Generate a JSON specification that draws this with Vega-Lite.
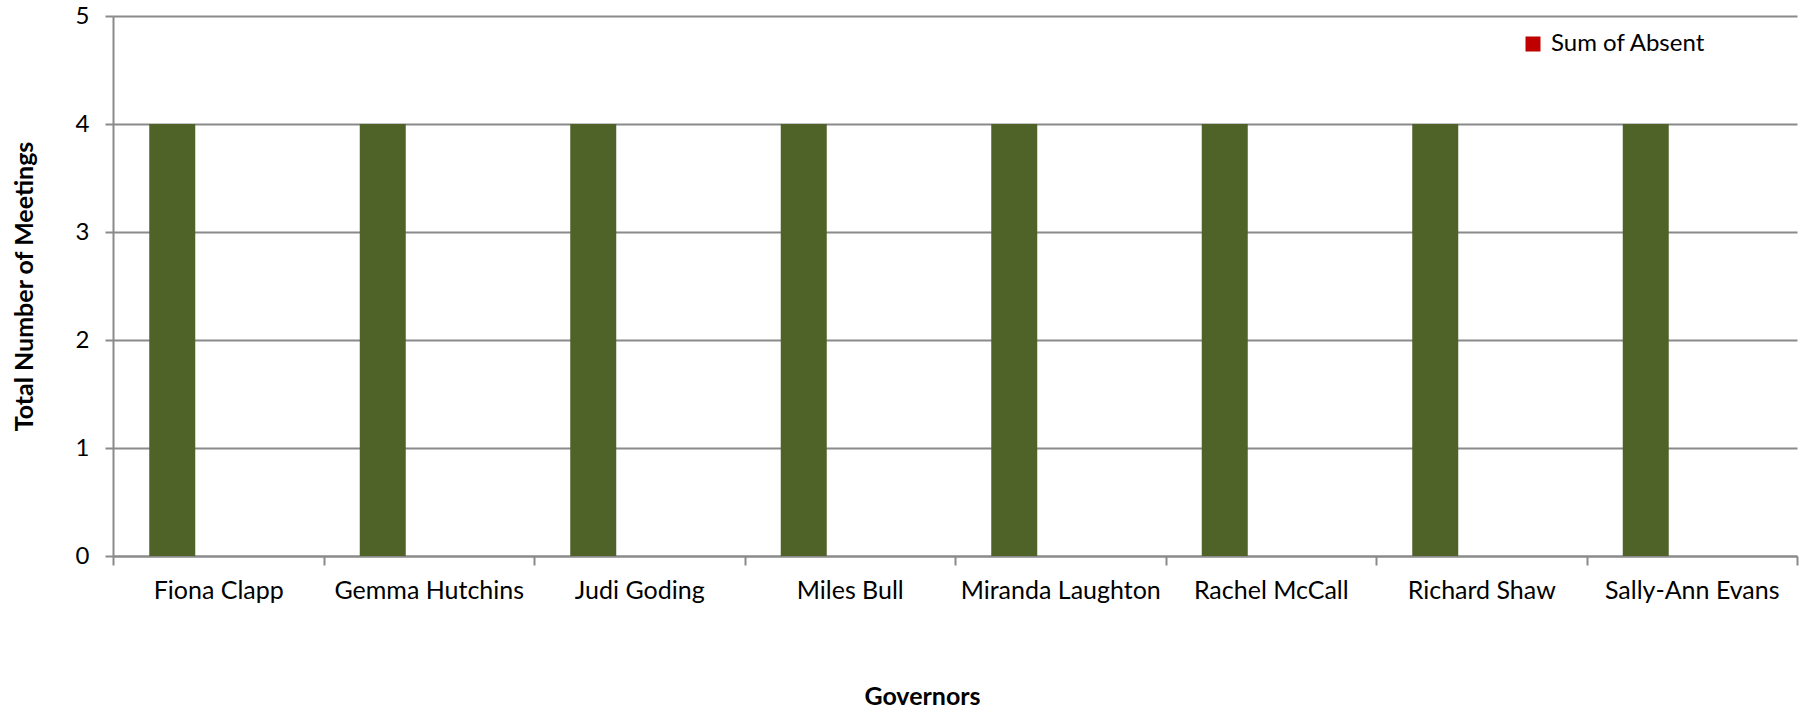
{
  "$schema": "https://vega.github.io/schema/vega-lite/v6.json",
  "width": 1684,
  "height": 540,
  "autosize": {"type": "none"},
  "padding": {"left": 113, "top": 16, "right": 4, "bottom": 154},
  "background": "white",
  "config": {
    "view": {"stroke": null},
    "font": "Lato",
    "axis": {"labelFont": "Lato", "titleFont": "Lato", "labelColor": "#000000", "titleColor": "#000000"}
  },
  "data": {
    "values": [
      {"governor": "Fiona Clapp", "series": "Sum of Attended", "value": 4},
      {"governor": "Fiona Clapp", "series": "Sum of Absent", "value": 0},
      {"governor": "Fiona Clapp", "series": "Sum of Apologies", "value": 0},
      {"governor": "Gemma Hutchins", "series": "Sum of Attended", "value": 4},
      {"governor": "Gemma Hutchins", "series": "Sum of Absent", "value": 0},
      {"governor": "Gemma Hutchins", "series": "Sum of Apologies", "value": 0},
      {"governor": "Judi Goding", "series": "Sum of Attended", "value": 4},
      {"governor": "Judi Goding", "series": "Sum of Absent", "value": 0},
      {"governor": "Judi Goding", "series": "Sum of Apologies", "value": 0},
      {"governor": "Miles Bull", "series": "Sum of Attended", "value": 4},
      {"governor": "Miles Bull", "series": "Sum of Absent", "value": 0},
      {"governor": "Miles Bull", "series": "Sum of Apologies", "value": 0},
      {"governor": "Miranda Laughton", "series": "Sum of Attended", "value": 4},
      {"governor": "Miranda Laughton", "series": "Sum of Absent", "value": 0},
      {"governor": "Miranda Laughton", "series": "Sum of Apologies", "value": 0},
      {"governor": "Rachel McCall", "series": "Sum of Attended", "value": 4},
      {"governor": "Rachel McCall", "series": "Sum of Absent", "value": 0},
      {"governor": "Rachel McCall", "series": "Sum of Apologies", "value": 0},
      {"governor": "Richard Shaw", "series": "Sum of Attended", "value": 4},
      {"governor": "Richard Shaw", "series": "Sum of Absent", "value": 0},
      {"governor": "Richard Shaw", "series": "Sum of Apologies", "value": 0},
      {"governor": "Sally-Ann Evans", "series": "Sum of Attended", "value": 4},
      {"governor": "Sally-Ann Evans", "series": "Sum of Absent", "value": 0},
      {"governor": "Sally-Ann Evans", "series": "Sum of Apologies", "value": 0}
    ]
  },
  "mark": {"type": "bar"},
  "encoding": {
    "x": {
      "field": "governor",
      "type": "nominal",
      "sort": null,
      "scale": {"paddingInner": 0, "paddingOuter": 0},
      "axis": {
        "title": "Governors",
        "titleFontSize": 25,
        "titleFontWeight": "bold",
        "titleX": 809,
        "titleY": 128,
        "titleBaseline": "top",
        "titleAlign": "center",
        "labelAngle": 0,
        "labelFontSize": 25,
        "labelLimit": 0,
        "labelPadding": 13,
        "labelBaseline": "top",
        "tickBand": "extent",
        "tickSize": 9,
        "tickColor": "#8a8a8a",
        "tickWidth": 2,
        "domainColor": "#8a8a8a",
        "domainWidth": 2,
        "grid": false
      }
    },
    "xOffset": {
      "field": "series",
      "type": "nominal",
      "sort": ["Sum of Attended", "Sum of Absent", "Sum of Apologies"],
      "scale": {"paddingInner": 0, "paddingOuter": 0.788}
    },
    "y": {
      "field": "value",
      "type": "quantitative",
      "scale": {"domain": [0, 5], "nice": false},
      "axis": {
        "title": "Total Number of Meetings",
        "titleFontSize": 25,
        "titleFontWeight": "bold",
        "titleX": -81,
        "titleBaseline": "alphabetic",
        "values": [0, 1, 2, 3, 4, 5],
        "format": "d",
        "labelFontSize": 24,
        "labelPadding": 16,
        "tickSize": 8,
        "tickColor": "#8a8a8a",
        "tickWidth": 2,
        "domainColor": "#8a8a8a",
        "domainWidth": 2,
        "grid": true,
        "gridColor": "#8a8a8a",
        "gridWidth": 2
      }
    },
    "color": {
      "field": "series",
      "type": "nominal",
      "scale": {
        "domain": ["Sum of Attended", "Sum of Absent", "Sum of Apologies"],
        "range": ["#4f6228", "#c00000", "#4f81bd"]
      },
      "legend": {
        "values": ["Sum of Absent"],
        "title": null,
        "orient": "none",
        "legendX": 1408,
        "legendY": 16,
        "symbolType": "square",
        "symbolSize": 225,
        "symbolStrokeWidth": 0,
        "symbolOpacity": 1,
        "labelFontSize": 24,
        "labelColor": "#000000",
        "labelOffset": 6
      }
    }
  }
}
